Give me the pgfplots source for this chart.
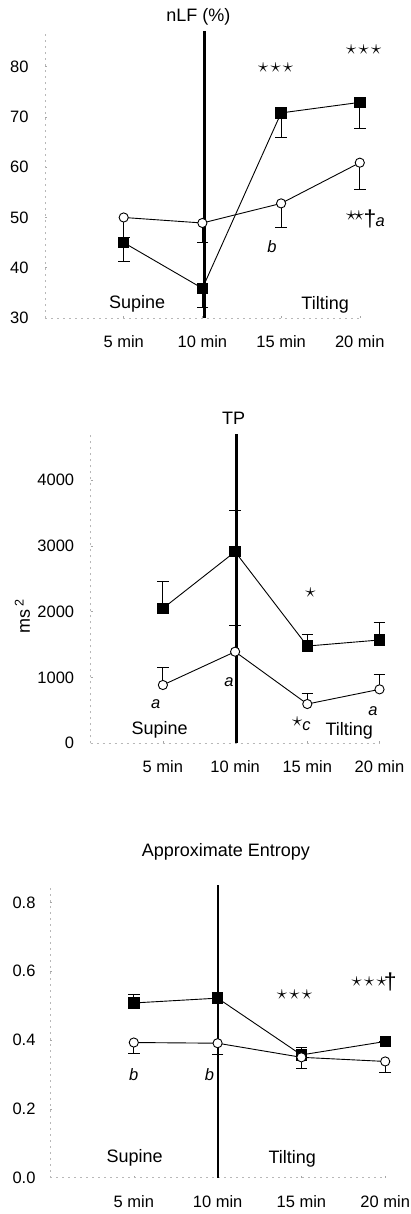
\documentclass[border=0pt]{standalone}
\usepackage{pgfplots}
\pgfplotsset{compat=1.18}
\usepackage{fontspec}
\setmainfont{Liberation Sans}
\newcommand\tk{\fontsize{16.5}{18}\selectfont}
\newcommand\lb{\fontsize{18}{20}\selectfont}
\newcommand\st{\fontsize{22}{24}\selectfont}
\newcommand\dg{\fontsize{23}{25}\selectfont}
\newcommand\starsiii{$\star\mkern-2mu\star\mkern-2mu\star$}
\newcommand\starsii{$\star\mkern-2mu\star$}
\pgfplotsset{
  every axis/.append style={
    scale only axis, clip=false, xmin=0, xmax=4,
    xtick={1,2,3,4}, xticklabels={5 min,10 min,15 min,20 min},
    axis x line*=bottom, axis y line*=left,
    axis line style={black!28, line width=0.5pt, dash pattern=on 2pt off 4pt},
    tick style={black!35, line width=0.5pt}, major tick length=2pt,
    tick label style={font=\tk},
    xticklabel style={yshift=-14pt},
    yticklabel style={xshift=-13pt},
    /pgf/number format/assume math mode=true,
  },
  sq/.style={black, line width=0.9pt, mark=square*, mark size=5.2pt,
    mark options={solid, fill=black, draw=black},
    error bars/y explicit,
    error bars/error bar style={line width=0.9pt, black},
    error bars/error mark options={rotate=90, mark size=5.8pt, line width=0.9pt, black}},
  ci/.style={black, line width=0.9pt, mark=*, mark size=4.6pt,
    mark options={solid, fill=white, draw=black, line width=0.9pt},
    error bars/y explicit,
    error bars/error bar style={line width=0.9pt, black},
    error bars/error mark options={rotate=90, mark size=5.8pt, line width=0.9pt, black}},
}
\begin{document}
\begin{tikzpicture}
\path[use as bounding box] (0pt,0pt) rectangle (411pt,-1214pt);

% ---------------- Panel 1: nLF (%)
\begin{axis}[at={(45pt,-318pt)}, anchor=south west,
  width=314.8pt, height=286.5pt, ymin=30, ymax=87,
  ytick={30,40,50,60,70,80}]
\addplot[ci, error bars/y dir=minus] table[x=x, y=y, y error=e] {
x y e
1 50.0 4.0
2 48.9 3.9
3 52.8 4.8
4 60.9 5.3
};
\addplot[sq, error bars/y dir=minus] table[x=x, y=y, y error=e] {
x y e
1 45.0 3.8
2 35.9 3.9
3 70.8 4.8
4 72.9 5.1
};
\addplot[black, line width=2.6pt] coordinates {(2.03,30) (2.03,87)};
\node at (axis cs:1.95,89.95) {\lb nLF (\%)};
\node at (axis cs:2.93,79.8) {\st\starsiii};
\node at (axis cs:4.05,83.4) {\st\starsiii};
\node at (axis cs:3.94,50.39) {\st\starsii};
\node at (axis cs:4.13,49.74) {\dg †};
\node at (axis cs:4.26,49.0) {\tk\itshape a};
\node at (axis cs:2.885,44.2) {\tk\itshape b};
\node at (axis cs:1.17,32.9) {\lb Supine};
\node at (axis cs:3.56,32.6) {\lb Tilting};
\end{axis}

% ---------------- Panel 2: TP
\begin{axis}[at={(90.7pt,-743.3pt)}, anchor=south west,
  width=288.8pt, height=309.3pt, ymin=0, ymax=4700,
  ytick={0,1000,2000,3000,4000}, scaled y ticks=false,
  yticklabel style={/pgf/number format/1000 sep={}}]
\addplot[sq, error bars/y dir=plus] table[x=x, y=y, y error=e] {
x y e
1 2050 416
2 2911 623
3 1478 178
4 1570 263
};
\addplot[ci, error bars/y dir=plus] table[x=x, y=y, y error=e] {
x y e
1 886 263
2 1392 405
3 597 162
4 820 228
};
\addplot[black, line width=2.6pt] coordinates {(2.02,0) (2.02,4700)};
\node at (axis cs:1.98,4939) {\lb TP};
\node[rotate=90] at (axis cs:-0.947,1924) {\lb ms\,\textsuperscript{2}};
\node at (axis cs:0.9,597) {\tk\itshape a};
\node at (axis cs:1.914,936) {\tk\itshape a};
\node at (axis cs:3.045,2289) {\st$\star$};
\node at (axis cs:2.86,328) {\st$\star$};
\node at (axis cs:2.99,263) {\tk\itshape c};
\node at (axis cs:3.91,486) {\tk\itshape a};
\node at (axis cs:0.955,202) {\lb Supine};
\node at (axis cs:3.58,192) {\lb Tilting};
\end{axis}

% ---------------- Panel 3: Approximate Entropy
\begin{axis}[at={(50pt,-1177.7pt)}, anchor=south west,
  width=335.2pt, height=292.4pt, ymin=0, ymax=0.85,
  ytick={0,0.2,0.4,0.6,0.8},
  yticklabel style={xshift=2pt, /pgf/number format/.cd, fixed, fixed zerofill, precision=1}]
\addplot[sq, error bars/y dir=plus] table[x=x, y=y, y error=e] {
x y e
1 0.508 0.024
2 0.522 0.017
3 0.357 0.023
4 0.396 0.0
};
\addplot[ci, error bars/y dir=minus] table[x=x, y=y, y error=e] {
x y e
1 0.393 0.033
2 0.391 0.034
3 0.350 0.032
4 0.338 0.032
};
\addplot[black, line width=2pt] coordinates {(2.01,0) (2.01,0.85)};
\node at (axis cs:2.1,0.948) {\lb Approximate Entropy};
\node at (axis cs:2.918,0.531) {\st\starsiii};
\node at (axis cs:3.81,0.570) {\st\starsiii};
\node at (axis cs:4.06,0.570) {\dg †};
\node at (axis cs:1.0,0.301) {\tk\itshape b};
\node at (axis cs:1.903,0.301) {\tk\itshape b};
\node at (axis cs:1.01,0.058) {\lb Supine};
\node at (axis cs:2.89,0.056) {\lb Tilting};
\end{axis}
\end{tikzpicture}
\end{document}
